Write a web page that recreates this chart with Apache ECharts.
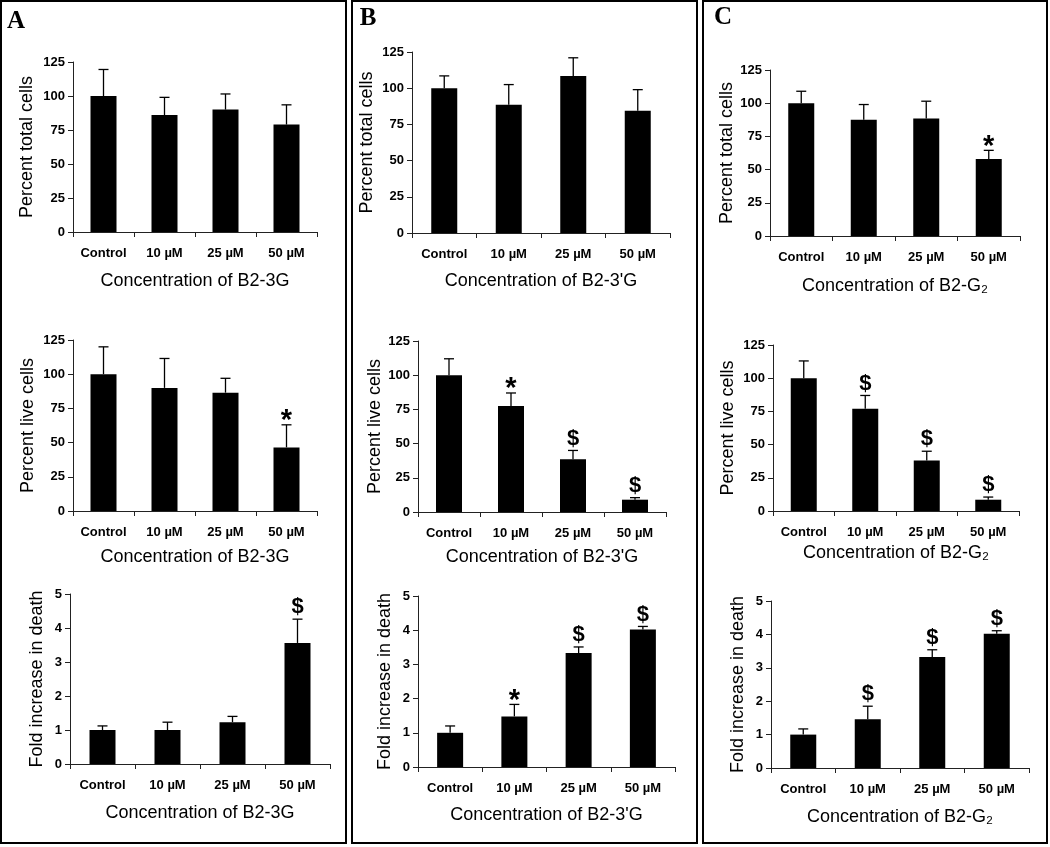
<!DOCTYPE html>
<html>
<head>
<meta charset="utf-8">
<script src="https://cdn.jsdelivr.net/npm/echarts@6/dist/echarts.min.js"></script>
<style>
  html, body { margin: 0; padding: 0; background: #fff; }
  #main { width: 1050px; height: 847px; }
</style>
</head>
<body>
<div id="main"></div>
<script>
// categories and tick values
var categories = ['Control', '10 µM', '25 µM', '50 µM'];
var pctTicks = [0, 25, 50, 75, 100, 125];
var foldTicks = [0, 1, 2, 3, 4, 5];

// panel A (B2-3G)
var totalA = [100, 86, 90, 79];
var totalAErr = [19.5, 13, 11.5, 14.5];
var totalAMarks = ['', '', '', ''];
var liveA = [100, 90, 86.5, 46.5];
var liveAErr = [20, 21.5, 10.5, 16.5];
var liveAMarks = ['', '', '', '*'];
var deathA = [1, 1, 1.23, 3.56];
var deathAErr = [0.12, 0.23, 0.17, 0.7];
var deathAMarks = ['', '', '', '$'];

// panel B (B2-3'G)
var totalB = [100, 88.5, 108.5, 84.5];
var totalBErr = [8.5, 14, 12.5, 14.5];
var totalBMarks = ['', '', '', ''];
var liveB = [100, 77.5, 38.5, 9];
var liveBErr = [12, 9.5, 6.5, 1.5];
var liveBMarks = ['', '*', '$', '$'];
var deathB = [1, 1.48, 3.33, 4.02];
var deathBErr = [0.2, 0.35, 0.18, 0.09];
var deathBMarks = ['', '*', '$', '$'];

// panel C (B2-G2)
var totalC = [100, 87.5, 88.5, 58];
var totalCErr = [9, 11.5, 13, 6.5];
var totalCMarks = ['', '', '', '*'];
var liveC = [100, 77, 38, 8.5];
var liveCErr = [13, 10, 7, 2];
var liveCMarks = ['', '$', '$', '$'];
var deathC = [1, 1.46, 3.32, 4.02];
var deathCErr = [0.17, 0.39, 0.22, 0.09];
var deathCMarks = ['', '$', '$', '$'];

var nameA = 'Concentration of B2-3G';
var nameB = "Concentration of B2-3'G";
var nameC = 'Concentration of B2-G\u2082';
var FONT = '"Liberation Sans", Arial, sans-serif';

var panels = [
  {grid: {left: 73, top: 62, width: 244, height: 170}, vals: totalA, err: totalAErr, marks: totalAMarks, yName: 'Percent total cells', xName: nameA, ticks: pctTicks, yGap: 37, xGap: 40},
  {grid: {left: 412, top: 52, width: 258, height: 181}, vals: totalB, err: totalBErr, marks: totalBMarks, yName: 'Percent total cells', xName: nameB, ticks: pctTicks, yGap: 36, xGap: 39},
  {grid: {left: 770, top: 70, width: 250, height: 166}, vals: totalC, err: totalCErr, marks: totalCMarks, yName: 'Percent total cells', xName: nameC, ticks: pctTicks, yGap: 34, xGap: 41},
  {grid: {left: 73, top: 340, width: 244, height: 171}, vals: liveA, err: liveAErr, marks: liveAMarks, yName: 'Percent live cells', xName: nameA, ticks: pctTicks, yGap: 36, xGap: 37},
  {grid: {left: 418, top: 341, width: 248, height: 171}, vals: liveB, err: liveBErr, marks: liveBMarks, yName: 'Percent live cells', xName: nameB, ticks: pctTicks, yGap: 33, xGap: 36},
  {grid: {left: 773, top: 345, width: 246, height: 166}, vals: liveC, err: liveCErr, marks: liveCMarks, yName: 'Percent live cells', xName: nameC, ticks: pctTicks, yGap: 36, xGap: 33},
  {grid: {left: 70, top: 594, width: 260, height: 170}, vals: deathA, err: deathAErr, marks: deathAMarks, yName: 'Fold increase in death', xName: nameA, ticks: foldTicks, yGap: 24, xGap: 40},
  {grid: {left: 418, top: 596, width: 257, height: 171}, vals: deathB, err: deathBErr, marks: deathBMarks, yName: 'Fold increase in death', xName: nameB, ticks: foldTicks, yGap: 24, xGap: 39},
  {grid: {left: 771, top: 601, width: 258, height: 167}, vals: deathC, err: deathCErr, marks: deathCMarks, yName: 'Fold increase in death', xName: nameC, ticks: foldTicks, yGap: 24, xGap: 40}
];

var chart = echarts.init(document.getElementById('main'));

var grids = [], xAxes = [], yAxes = [], series = [];
panels.forEach(function (p, k) {
  grids.push(Object.assign({outerBoundsMode: 'none', containLabel: false}, p.grid));
  xAxes.push({
    type: 'category', gridIndex: k, data: categories,
    axisLine: {lineStyle: {color: '#222', width: 1}},
    axisTick: {show: true, length: 5, lineStyle: {color: '#222'}},
    axisLabel: {color: '#000', fontFamily: FONT, fontWeight: 'bold', fontSize: 13, margin: 15, interval: 0},
    name: p.xName, nameLocation: 'middle', nameGap: p.xGap,
    nameTextStyle: {color: '#000', fontFamily: FONT, fontSize: 18}
  });
  yAxes.push({
    type: 'value', gridIndex: k,
    min: p.ticks[0], max: p.ticks[p.ticks.length - 1], interval: p.ticks[1] - p.ticks[0],
    splitLine: {show: false},
    axisLine: {show: true, lineStyle: {color: '#222', width: 1}},
    axisTick: {show: true, length: 5, lineStyle: {color: '#222'}},
    axisLabel: {color: '#000', fontFamily: FONT, fontWeight: 'bold', fontSize: 13, margin: 8},
    name: p.yName, nameLocation: 'middle', nameGap: p.yGap,
    nameTextStyle: {color: '#000', fontFamily: FONT, fontSize: 18}
  });
  series.push({
    type: 'bar', xAxisIndex: k, yAxisIndex: k, data: p.vals,
    barWidth: 26, itemStyle: {color: '#000'}, silent: true
  });
  var marks = p.marks;
  series.push({
    type: 'custom', xAxisIndex: k, yAxisIndex: k, z: 5, clip: false, silent: true,
    data: p.vals.map(function (v, i) { return [i, v, p.err[i]]; }),
    renderItem: function (params, api) {
      var x = api.value(0), m = api.value(1), e = api.value(2);
      var base = api.coord([x, m]);
      var top = api.coord([x, m + e]);
      var st = {stroke: '#000', lineWidth: 1.3};
      var kids = [
        {type: 'line', shape: {x1: base[0], y1: base[1], x2: top[0], y2: top[1]}, style: st},
        {type: 'line', shape: {x1: top[0] - 5, y1: top[1], x2: top[0] + 5, y2: top[1]}, style: st}
      ];
      var mk = marks[params.dataIndex];
      if (mk) {
        var star = mk === '*';
        kids.push({
          type: 'text',
          style: {
            text: mk, x: top[0], y: top[1] + (star ? 11 : -1),
            align: 'center', verticalAlign: 'bottom',
            textAlign: 'center', textVerticalAlign: 'bottom',
            font: 'bold ' + (star ? 29 : 22) + 'px ' + FONT, fill: '#000'
          }
        });
      }
      return {type: 'group', children: kids};
    }
  });
});

// panel frames and letters
var frames = [[1, 1, 345, 842], [352, 1, 345, 842], [703, 1, 344, 842]];
var letters = [['A', 16, 22], ['B', 368, 19], ['C', 723, 18]];
var graphics = [];
frames.forEach(function (f) {
  graphics.push({type: 'rect', shape: {x: f[0], y: f[1], width: f[2], height: f[3]},
    style: {fill: 'none', stroke: '#000', lineWidth: 2}, silent: true});
});
letters.forEach(function (l) {
  graphics.push({type: 'text', x: l[1], y: l[2],
    style: {text: l[0], font: 'bold 25px "Liberation Serif", serif', fill: '#000',
      textAlign: 'center', textVerticalAlign: 'middle', align: 'center', verticalAlign: 'middle'}});
});

var options = {
  animation: false,
  backgroundColor: '#fff',
  grid: grids,
  xAxis: xAxes,
  yAxis: yAxes,
  series: series,
  graphic: graphics
};
chart.setOption(options);
</script>
</body>
</html>
